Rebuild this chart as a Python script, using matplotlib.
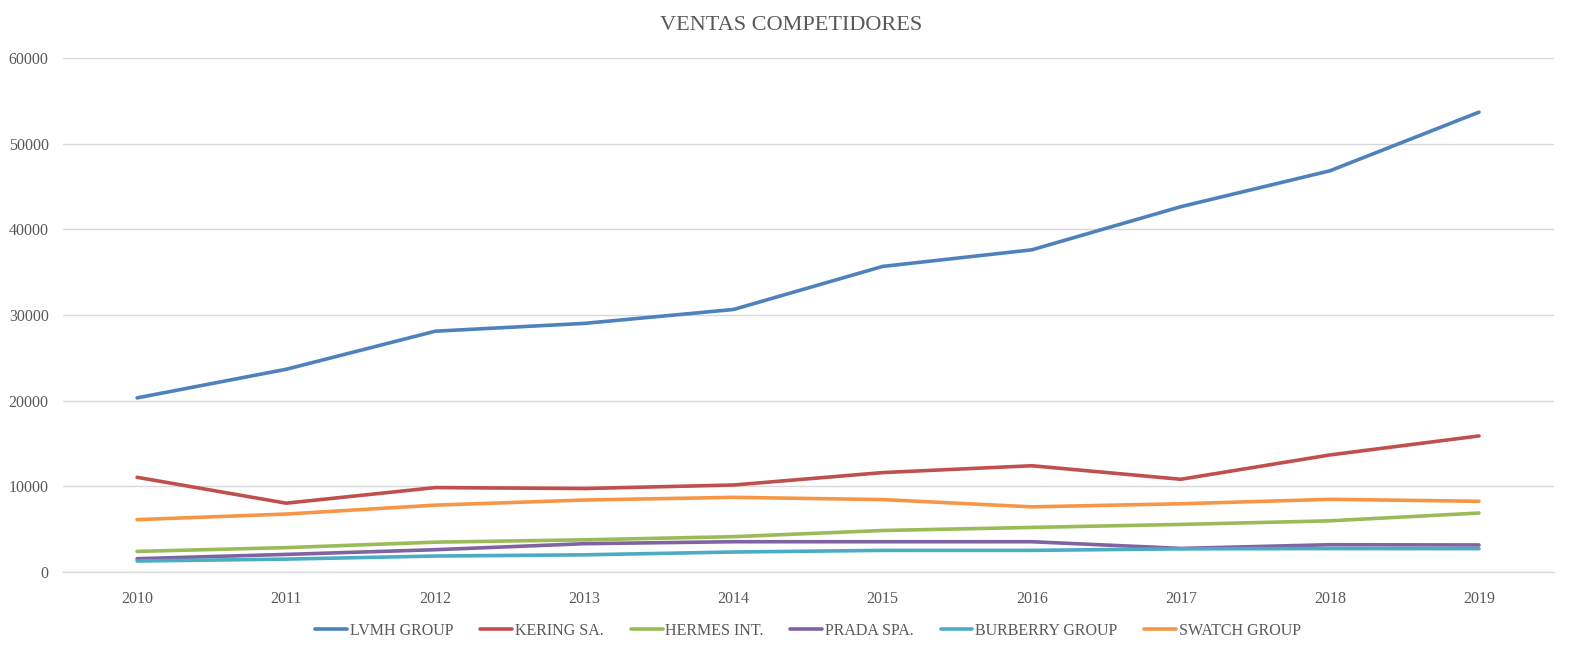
""" Ventas competidores - line chart """
import matplotlib.pyplot as plt

YEARS = ['2010', '2011', '2012', '2013', '2014', '2015', '2016', '2017', '2018', '2019']

LVMH = [20320, 23659, 28103, 29016, 30638, 35664, 37600, 42636, 46826, 53670]
KERING = [11050, 8030, 9850, 9740, 10150, 11600, 12400, 10820, 13660, 15880]
HERMES = [2400, 2840, 3480, 3750, 4120, 4840, 5200, 5550, 5970, 6880]
PRADA = [1550, 2050, 2600, 3300, 3530, 3530, 3530, 2750, 3180, 3150]
BURBERRY = [1280, 1500, 1860, 2000, 2330, 2520, 2520, 2700, 2730, 2720]
SWATCH = [6110, 6760, 7800, 8400, 8710, 8450, 7600, 7960, 8480, 8250]

SERIES = [
    ('LVMH GROUP', LVMH, '#4F81BD'),
    ('KERING SA.', KERING, '#C0504D'),
    ('HERMES INT.', HERMES, '#9BBB59'),
    ('PRADA SPA.', PRADA, '#8064A2'),
    ('BURBERRY GROUP', BURBERRY, '#4BACC6'),
    ('SWATCH GROUP', SWATCH, '#F79646'),
]

plt.rcParams['font.family'] = ['Liberation Serif', 'DejaVu Serif']
TEXT_COLOR = '#595959'
GRID_COLOR = '#D9D9D9'

fig = plt.figure(figsize=(15.83, 6.51), dpi=100)
ax = fig.add_axes([0.0395, 0.1214, 0.9419, 0.7896])

x = list(range(len(YEARS)))
for label, values, color in SERIES:
    ax.plot(x, values, color=color, linewidth=2.6, label=label, solid_capstyle='round')

ax.set_xlim(-0.5, len(YEARS) - 0.5)
ax.set_ylim(0, 60000)
ax.set_yticks(range(0, 60001, 10000))
ax.set_xticks(x)
ax.set_xticklabels(YEARS)
ax.tick_params(length=0, labelsize=11.5, labelcolor=TEXT_COLOR)
ax.tick_params(axis='x', pad=14)
ax.tick_params(axis='y', pad=10)

ax.grid(axis='y', color=GRID_COLOR, linewidth=1)
ax.set_axisbelow(True)
for side in ['top', 'right', 'left']:
    ax.spines[side].set_visible(False)
ax.spines['bottom'].set_color(GRID_COLOR)
ax.spines['bottom'].set_linewidth(1)

fig.suptitle('VENTAS COMPETIDORES', y=0.975, fontsize=16, color=TEXT_COLOR)

ax.legend(loc='center', bbox_to_anchor=(0.5, -0.115), ncol=6, frameon=False,
          fontsize=11.5, labelcolor=TEXT_COLOR, handlelength=2.0, columnspacing=1.7,
          handletextpad=0.15)

fig.savefig('out.png', dpi=100)
plt.close()
